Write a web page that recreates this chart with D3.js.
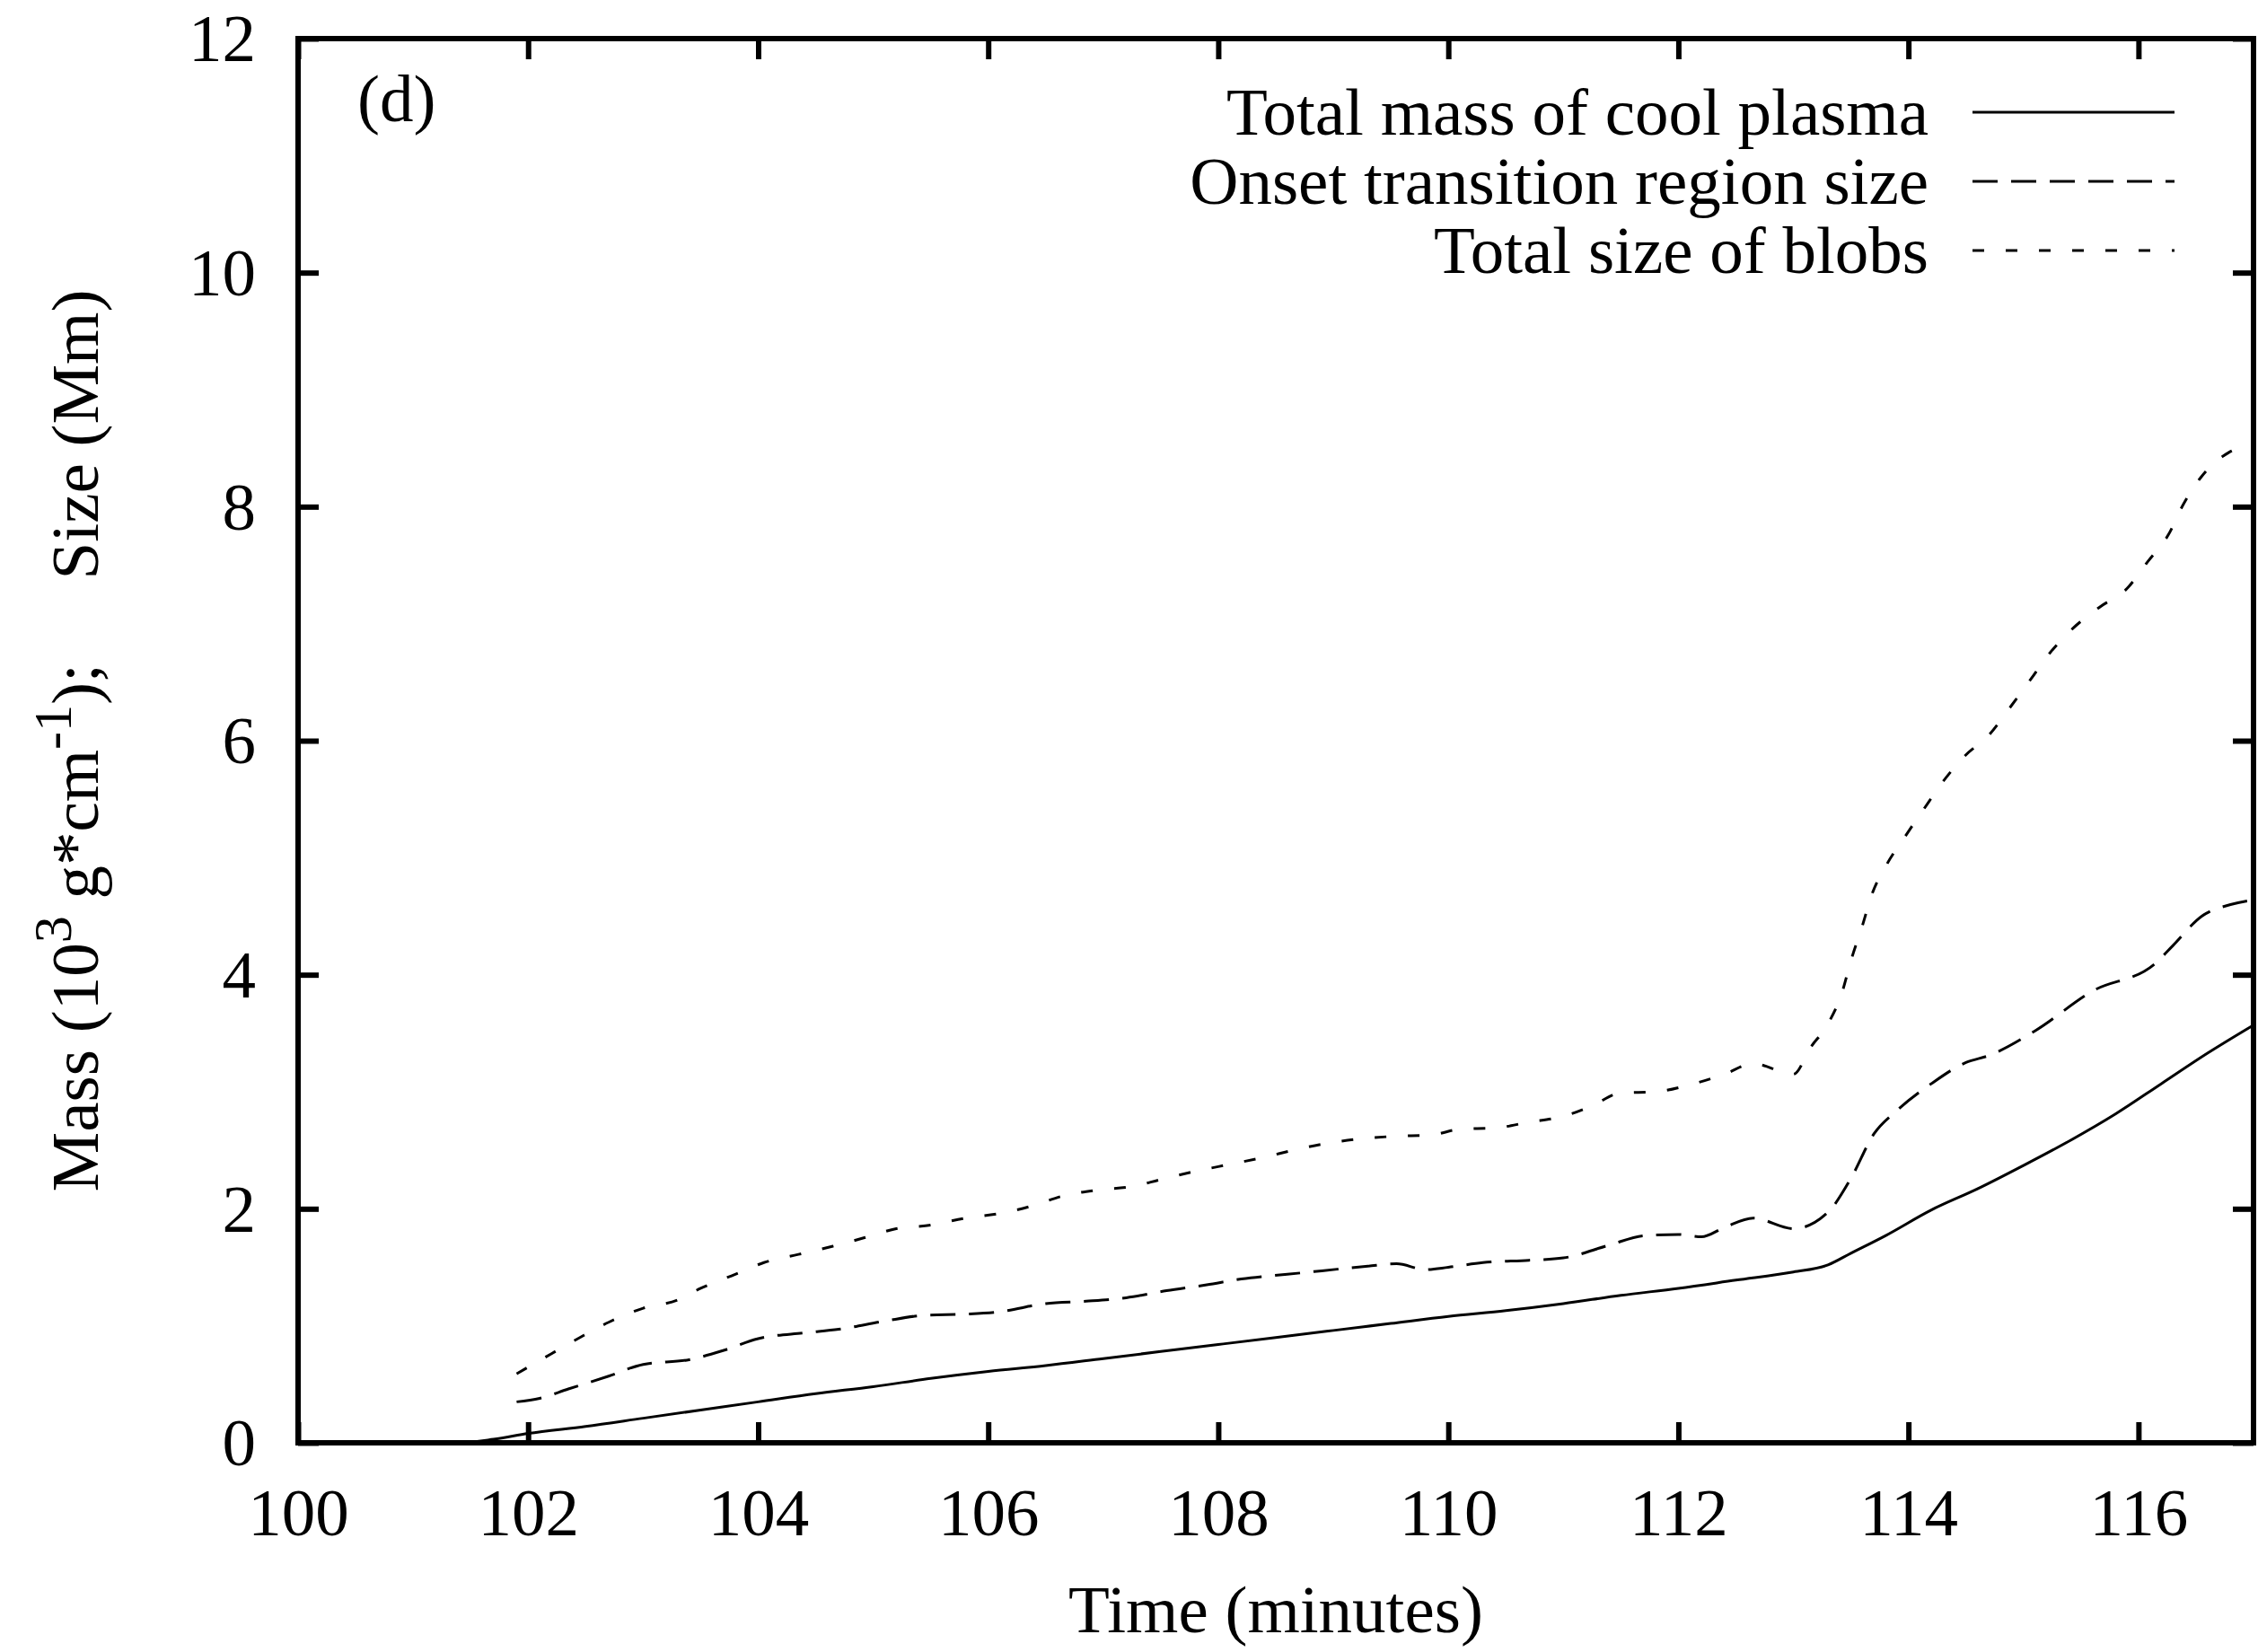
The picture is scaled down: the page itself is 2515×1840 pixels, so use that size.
<!DOCTYPE html>
<html>
<head>
<meta charset="utf-8">
<script src="https://cdn.jsdelivr.net/npm/d3@7"></script>
<style>
  html, body { margin: 0; padding: 0; background: #fff; }
  svg { display: block; }
  text { font-family: "Liberation Serif", "Times New Roman", serif; fill: #000; }
</style>
</head>
<body>
<div id="chart"></div>
<script>
// time (minutes) / value pairs
const massTime = [100.0, 101.4, 101.7, 102.0, 102.5, 103.0, 103.5, 104.0, 104.5, 105.0, 105.5, 106.0, 106.5, 107.0, 107.5, 108.0, 108.5, 109.0, 109.5, 110.0, 110.5, 111.0, 111.5, 112.0, 112.5, 113.0, 113.3, 113.5, 113.8, 114.2, 114.6, 115.0, 115.4, 115.8, 116.2, 116.6, 117.0];
const massValue = [0, 0, 0.03, 0.08, 0.14, 0.21, 0.28, 0.35, 0.42, 0.48, 0.55, 0.61, 0.66, 0.72, 0.78, 0.84, 0.90, 0.96, 1.02, 1.08, 1.13, 1.19, 1.26, 1.32, 1.39, 1.46, 1.52, 1.62, 1.77, 1.99, 2.17, 2.37, 2.58, 2.81, 3.07, 3.33, 3.57];

const onsetTime = [101.9, 102.1, 102.35, 102.7, 103.0, 103.4, 103.7, 104.0, 104.4, 104.7, 105.1, 105.45, 105.8, 106.1, 106.5, 106.85, 107.2, 107.55, 107.9, 108.2, 108.6, 108.9, 109.3, 109.55, 109.8, 110.0, 110.3, 110.7, 111.0, 111.4, 111.7, 112.0, 112.2, 112.4, 112.65, 113.0, 113.3, 113.5, 113.7, 113.9, 114.2, 114.5, 114.7, 115.1, 115.6, 116.15, 116.3, 116.55, 116.8, 117.0];
const onsetValue = [0.35, 0.38, 0.46, 0.57, 0.67, 0.71, 0.79, 0.89, 0.94, 0.97, 1.04, 1.09, 1.10, 1.12, 1.19, 1.21, 1.24, 1.30, 1.35, 1.40, 1.44, 1.47, 1.51, 1.53, 1.48, 1.50, 1.54, 1.56, 1.58, 1.69, 1.77, 1.78, 1.76, 1.84, 1.92, 1.83, 1.97, 2.26, 2.64, 2.84, 3.07, 3.25, 3.31, 3.52, 3.86, 4.10, 4.25, 4.50, 4.60, 4.64];

const blobTime = [101.9, 102.2, 102.45, 102.7, 103.0, 103.3, 103.5, 103.8, 104.05, 104.35, 104.65, 104.95, 105.2, 105.5, 105.8, 106.1, 106.4, 106.65, 106.95, 107.25, 107.5, 107.8, 108.1, 108.4, 108.65, 108.95, 109.25, 109.55, 109.85, 110.1, 110.4, 110.7, 111.0, 111.25, 111.5, 111.8, 112.1, 112.4, 112.65, 113.0, 113.15, 113.3, 113.42, 113.5, 113.6, 113.68, 113.81, 113.97, 114.13, 114.3, 114.49, 114.71, 114.88, 115.06, 115.23, 115.43, 115.66, 115.9, 116.08, 116.26, 116.39, 116.55, 116.78, 117.0];
const blobValue = [0.59, 0.76, 0.90, 1.03, 1.15, 1.22, 1.32, 1.44, 1.54, 1.61, 1.68, 1.76, 1.83, 1.86, 1.92, 1.96, 2.03, 2.11, 2.16, 2.19, 2.25, 2.32, 2.38, 2.44, 2.50, 2.56, 2.60, 2.62, 2.63, 2.68, 2.69, 2.74, 2.79, 2.88, 2.99, 3.00, 3.06, 3.15, 3.24, 3.15, 3.38, 3.58, 3.84, 4.12, 4.42, 4.68, 4.94, 5.18, 5.41, 5.65, 5.87, 6.06, 6.28, 6.52, 6.75, 6.96, 7.14, 7.30, 7.53, 7.76, 8.02, 8.26, 8.46, 8.53];

const seriesNames = ['Total mass of cool plasma', 'Onset transition region size', 'Total size of blobs'];
const xTicks = [100, 102, 104, 106, 108, 110, 112, 114, 116];
const yTicks = [0, 2, 4, 6, 8, 10, 12];

const width = 2515, height = 1840;
const margin = { left: 332, right: 5, top: 43, bottom: 233 };
const plotW = width - margin.left - margin.right;
const plotH = height - margin.top - margin.bottom;
const tickLen = 23;
const fontSize = 75;

const zip = (ts, vs) => ts.map((t, i) => ({ t: t, v: vs[i] }));
const series = [
    { name: seriesNames[0], data: zip(massTime, massValue), dash: null },
    { name: seriesNames[1], data: zip(onsetTime, onsetValue), dash: '28,15' },
    { name: seriesNames[2], data: zip(blobTime, blobValue), dash: '13,24' }
];

const svg = d3.select('#chart').append('svg')
    .attr('width', width)
    .attr('height', height);

const x = d3.scaleLinear().domain([100, 117]).range([0, plotW]);
const y = d3.scaleLinear().domain([0, 12]).range([plotH, 0]);

const g = svg.append('g').attr('transform', `translate(${margin.left},${margin.top})`);

// curves
const line = d3.line()
    .curve(d3.curveMonotoneX)
    .x(d => x(d.t))
    .y(d => y(d.v));

g.append('defs').append('clipPath').attr('id', 'plotClip')
    .append('rect').attr('width', plotW).attr('height', plotH);

g.selectAll('path.series')
    .data(series)
    .enter().append('path')
    .attr('class', 'series')
    .attr('clip-path', 'url(#plotClip)')
    .attr('d', d => line(d.data))
    .attr('fill', 'none')
    .attr('stroke', '#000')
    .attr('stroke-width', 3)
    .attr('stroke-dasharray', d => d.dash);

// axes, ticks pointing inward on all four sides
function styleAxis(sel) {
    sel.select('.domain').remove();
    sel.selectAll('.tick line').attr('stroke', '#000').attr('stroke-width', 6);
}

const xAxis = g.append('g')
    .attr('transform', `translate(0,${plotH})`)
    .call(d3.axisBottom(x).tickValues(xTicks).tickSize(-tickLen).tickPadding(0));
styleAxis(xAxis);
xAxis.selectAll('.tick text')
    .attr('y', 103)
    .attr('dy', null)
    .attr('font-size', fontSize)
    .style('font-family', '"Liberation Serif", serif');

g.append('g')
    .call(d3.axisTop(x).tickValues(xTicks).tickSize(-tickLen).tickFormat(''))
    .call(styleAxis);

const yAxis = g.append('g')
    .call(d3.axisLeft(y).tickValues(yTicks).tickSize(-tickLen).tickPadding(0));
styleAxis(yAxis);
yAxis.selectAll('.tick text')
    .attr('x', -47)
    .attr('dy', '0.33em')
    .attr('font-size', fontSize)
    .style('font-family', '"Liberation Serif", serif');

g.append('g')
    .attr('transform', `translate(${plotW},0)`)
    .call(d3.axisRight(y).tickValues(yTicks).tickSize(-tickLen).tickFormat(''))
    .call(styleAxis);

// frame
g.append('rect')
    .attr('width', plotW)
    .attr('height', plotH)
    .attr('fill', 'none')
    .attr('stroke', '#000')
    .attr('stroke-width', 6);

// panel label
g.append('text')
    .attr('x', 66)
    .attr('y', 92)
    .attr('font-size', fontSize)
    .text('(d)');

// legend
const legend = g.append('g').attr('transform', `translate(${plotW},0)`);
const legendRows = legend.selectAll('g.row')
    .data(series)
    .enter().append('g')
    .attr('class', 'row')
    .attr('transform', (d, i) => `translate(0,${82 + i * 77})`);

legendRows.append('text')
    .attr('x', -362)
    .attr('y', 25)
    .attr('text-anchor', 'end')
    .attr('font-size', fontSize)
    .text(d => d.name);

legendRows.append('line')
    .attr('x1', -313)
    .attr('x2', -88)
    .attr('stroke', '#000')
    .attr('stroke-width', 3)
    .attr('stroke-dasharray', d => d.dash);

// axis titles
svg.append('text')
    .attr('x', 1421)
    .attr('y', 1818)
    .attr('text-anchor', 'middle')
    .attr('font-size', fontSize)
    .text('Time (minutes)');

const yTitle = svg.append('text')
    .attr('transform', `translate(109,${margin.top + plotH / 2}) rotate(-90)`)
    .attr('text-anchor', 'middle')
    .attr('font-size', fontSize);
yTitle.append('tspan').text('Mass (10');
yTitle.append('tspan').attr('font-size', fontSize * 0.8).attr('dy', -30).text('3');
yTitle.append('tspan').attr('dy', 30).text(' g*cm');
yTitle.append('tspan').attr('font-size', fontSize * 0.8).attr('dy', -30).text('-1');
yTitle.append('tspan').attr('dy', 30).text(');');
yTitle.append('tspan').attr('dx', 75).text(' Size (Mm)');
</script>
</body>
</html>
